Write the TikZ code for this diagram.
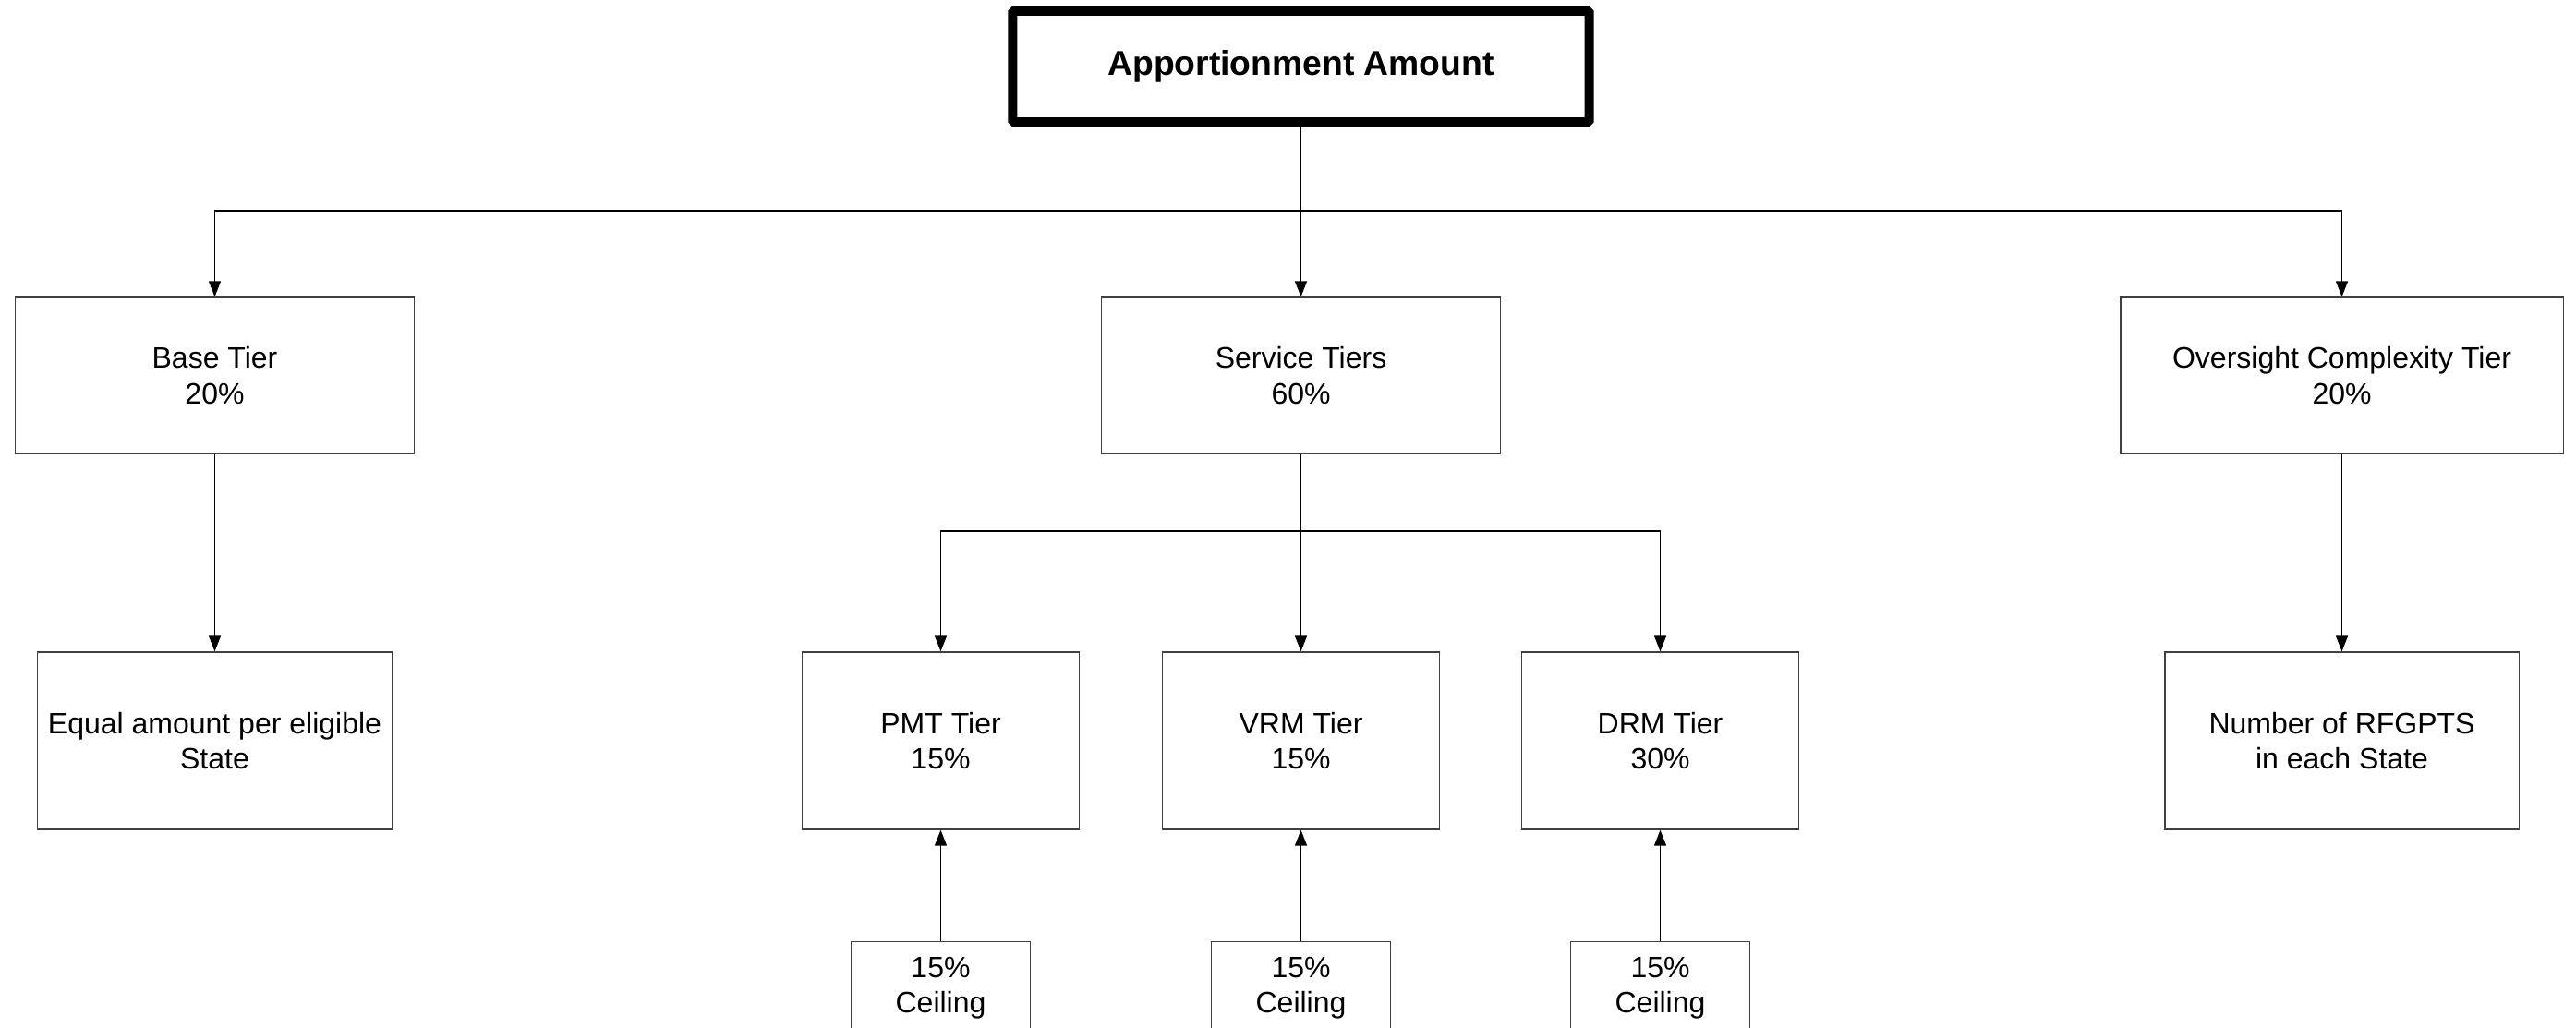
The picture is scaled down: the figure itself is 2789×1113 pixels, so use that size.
\documentclass[tikz,border=0pt]{standalone}
\usepackage{fontspec}
\setmainfont{Liberation Sans}
\usetikzlibrary{arrows.meta,positioning}
\tikzset{>={Triangle[width=0.13cm,length=0.17cm]}}
\tikzset{
  tierbox/.style={draw=black!75,line width=0.35pt,inner sep=0pt,align=center,
    font=\fontsize{9.1}{11}\selectfont},
  topbox/.style={draw,line width=0.1cm,rounded corners=0.5pt,inner sep=0pt,
    minimum width=6.24cm,minimum height=1.2cm,font=\fontsize{10.6}{12}\selectfont\bfseries},
  link/.style={->,line width=0.4pt}
}

\begin{document}
\begin{tikzpicture}[x=0.01cm,y=-0.01cm]
    \useasboundingbox (0,0) rectangle (2789,1113);
    \node [topbox] (amount) at (1408.5,72) {Apportionment Amount};
    % second row
    \node [tierbox,minimum width=4.32cm,minimum height=1.69cm] (base) at (232.5,406.5) {Base Tier\\20\%};
    \node [tierbox,minimum width=4.32cm,minimum height=1.69cm] (service) at (1408.5,406.5) {Service Tiers\\60\%};
    \node [tierbox,minimum width=4.79cm,minimum height=1.69cm] (oversight) at (2535.5,406.5) {Oversight Complexity Tier\\20\%};
    % third row
    \node [tierbox,minimum width=3.84cm,minimum height=1.92cm] (equal) at (232.5,802) {Equal amount per eligible\\State};
    \node [tierbox,minimum width=3.0cm,minimum height=1.92cm] (pmt) at (1018.5,802) {PMT Tier\\15\%};
    \node [tierbox,minimum width=3.0cm,minimum height=1.92cm] (vrm) at (1408.5,802) {VRM Tier\\15\%};
    \node [tierbox,minimum width=3.0cm,minimum height=1.92cm] (drm) at (1797.5,802) {DRM Tier\\30\%};
    \node [tierbox,minimum width=3.83cm,minimum height=1.92cm] (rfgpts) at (2535.5,802) {Number of RFGPTS\\in each State};
    % ceilings
    \node [tierbox,minimum width=1.94cm,minimum height=1.0cm,anchor=north] (pmtcap) at (1018.5,1019) {15\%\\Ceiling};
    \node [tierbox,minimum width=1.94cm,minimum height=1.0cm,anchor=north] (vrmcap) at (1408.5,1019) {15\%\\Ceiling};
    \node [tierbox,minimum width=1.94cm,minimum height=1.0cm,anchor=north] (drmcap) at (1797.5,1019) {15\%\\Ceiling};
    % connectors
    \coordinate (topbus) at (1408.5,228);
    \coordinate (midbus) at (1408.5,575);
    \draw [link] (amount.south) -- (topbus) -| (base.north);
    \draw [link] (topbus) -| (oversight.north);
    \draw [link] (amount.south) -- (service.north);
    \draw [link] (base.south) -- (equal.north);
    \draw [link] (oversight.south) -- (rfgpts.north);
    \draw [link] (service.south) -- (midbus) -| (pmt.north);
    \draw [link] (midbus) -| (drm.north);
    \draw [link] (service.south) -- (vrm.north);
    \draw [link] (pmtcap.north) -- (pmt.south);
    \draw [link] (vrmcap.north) -- (vrm.south);
    \draw [link] (drmcap.north) -- (drm.south);
\end{tikzpicture}
\end{document}
